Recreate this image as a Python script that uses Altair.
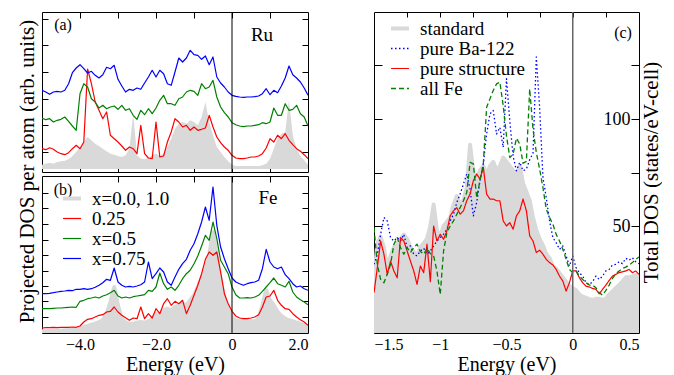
import altair as alt
import pandas as pd

FONT = "Liberation Serif"

# ---------------- energy grids ----------------
E_AB = [round(-5.0 + 0.1 * i, 1) for i in range(71)]
E_C = [round(-1.5 + 0.025 * i, 3) for i in range(81)]

# ---------------- panel (a): Ru projected DOS (arb. units, offset curves) ----------------
A_GREY = [4.3, 5.3, 6.3, 5.3, 7.0, 7.7, 8.3, 9.7, 13.0, 17.0,
          22.0, 27.0, 32.0, 28.7, 25.3, 23.0, 20.3, 17.7, 15.3, 14.3,
          13.0, 12.0, 13.7, 20.3, 55.3, 13.7, 10.3, 9.7, 11.0, 13.7,
          15.3, 13.0, 15.3, 22.0, 30.3, 40.3, 45.3, 47.0, 45.3, 48.7,
          47.0, 43.7, 52.0, 67.0, 47.0, 33.7, 22.0, 17.0, 12.0, 7.7,
          4.3, 3.0, 3.0, 3.0, 3.0, 3.0, 3.0, 3.0, 3.7, 5.3,
          10.3, 20.3, 30.3, 35.3, 37.0, 68.7, 33.7, 20.3, 13.0, 8.7, 4.3]
A_RED = [20.3, 19.3, 21.3, 19.7, 17.0, 15.3, 14.3, 16.3, 20.3, 23.7,
         20.3, 27.0, 100.0, 85.3, 67.0, 58.7, 50.3, 57.0, 33.7, 30.3,
         27.0, 23.0, 18.7, 22.0, 20.3, 15.3, 43.7, 15.3, 11.0, 10.3,
         47.0, 12.0, 13.0, 27.0, 37.0, 50.3, 47.0, 42.0, 43.7, 38.7,
         42.0, 38.7, 39.7, 41.0, 53.7, 42.0, 32.0, 26.3, 22.0, 18.7,
         13.7, 11.0, 10.3, 10.3, 11.0, 12.0, 12.0, 13.0, 15.3, 21.0,
         30.3, 27.0, 33.7, 30.3, 35.3, 28.7, 24.3, 20.3, 17.7, 14.3, 10.3]
A_GREEN = [51.0, 49.3, 50.3, 47.0, 48.7, 49.7, 52.0, 47.7, 43.0, 38.7,
           75.3, 85.3, 82.0, 70.3, 67.0, 61.0, 63.7, 60.3, 62.0, 63.0,
           59.7, 63.7, 58.7, 60.3, 53.7, 49.7, 58.7, 54.3, 60.3, 55.3,
           61.0, 68.7, 73.7, 65.3, 65.3, 63.7, 70.3, 72.0, 77.0, 78.7,
           77.7, 73.7, 85.3, 80.3, 82.0, 88.7, 72.0, 62.0, 56.3, 52.0,
           46.3, 44.3, 43.0, 42.3, 43.0, 43.0, 43.7, 44.3, 46.3, 45.3,
           47.0, 61.0, 53.7, 53.7, 65.3, 58.7, 59.7, 63.7, 55.3, 52.0, 43.0]
A_BLUE = [78.7, 77.0, 74.7, 77.0, 77.7, 77.0, 78.7, 85.3, 96.3, 101.0,
          104.3, 100.3, 96.0, 97.7, 93.7, 91.0, 94.3, 101.7, 100.3, 103.7,
          89.7, 83.0, 77.0, 79.7, 78.7, 81.0, 79.7, 86.0, 92.0, 98.7,
          92.0, 98.7, 95.3, 85.3, 83.7, 97.0, 111.0, 107.0, 111.0, 118.7,
          114.3, 113.7, 109.7, 113.0, 104.3, 112.0, 92.0, 86.0, 82.0, 77.0,
          73.7, 72.7, 72.0, 71.7, 72.0, 72.0, 72.3, 73.0, 75.3, 80.3,
          74.3, 78.7, 76.3, 83.0, 91.0, 103.0, 94.3, 91.0, 87.0, 81.0, 73.7]

# ---------------- panel (b): Fe projected DOS ----------------
B_GREY = [2.7, 2.7, 3.0, 3.0, 3.3, 3.3, 3.7, 4.0, 4.7, 5.3,
          6.0, 7.0, 8.0, 9.3, 10.3, 12.0, 13.7, 20.3, 32.0, 47.0,
          28.7, 15.3, 11.3, 10.3, 10.3, 11.3, 12.0, 11.3, 12.7, 15.3,
          20.3, 18.7, 23.7, 25.3, 23.7, 27.0, 28.7, 30.3, 28.7, 33.7,
          38.7, 47.0, 55.3, 65.3, 78.7, 102.0, 78.7, 55.3, 35.3, 23.7,
          17.0, 13.7, 12.7, 12.7, 12.7, 12.7, 12.7, 15.3, 28.7, 43.7,
          33.7, 28.7, 22.0, 18.0, 15.3, 13.7, 12.7, 11.3, 10.0, 8.7, 7.0]
B_RED = [6.0, 6.3, 6.3, 6.7, 6.3, 6.7, 6.7, 6.7, 7.0, 6.7,
         8.0, 12.0, 14.7, 15.3, 17.0, 18.7, 19.3, 22.0, 22.7, 27.0,
         22.0, 18.7, 16.3, 13.7, 16.0, 15.3, 27.0, 15.3, 20.3, 16.0,
         25.3, 20.3, 30.3, 35.3, 28.7, 32.7, 30.3, 33.7, 20.3, 28.7,
         38.7, 48.7, 60.3, 74.7, 82.0, 78.7, 82.0, 62.0, 40.3, 30.3,
         22.7, 18.0, 16.0, 15.3, 15.3, 16.0, 17.0, 19.3, 27.0, 37.0,
         38.0, 43.7, 33.7, 28.7, 25.3, 24.7, 20.3, 17.0, 14.3, 12.0, 8.7]
B_GREEN = [25.3, 25.3, 25.3, 25.7, 26.0, 26.0, 26.3, 26.7, 27.0, 26.7,
           32.7, 33.7, 35.3, 36.0, 37.0, 36.0, 38.0, 39.3, 41.3, 43.7,
           38.0, 36.0, 37.0, 36.0, 37.3, 38.0, 38.7, 39.3, 43.7, 42.7,
           47.0, 61.0, 50.3, 44.7, 47.0, 43.7, 48.7, 55.3, 60.3, 63.7,
           70.3, 78.0, 88.0, 98.7, 93.7, 112.0, 95.3, 73.7, 67.0, 60.3,
           47.0, 39.3, 36.0, 36.0, 36.3, 36.0, 37.0, 38.7, 42.7, 47.0,
           51.3, 56.0, 50.3, 48.7, 47.0, 52.7, 42.0, 37.0, 34.3, 32.0, 29.3]
B_BLUE = [40.3, 40.3, 40.7, 41.3, 42.0, 42.7, 43.0, 43.7, 43.3, 44.7,
          44.7, 45.3, 44.7, 45.3, 46.7, 48.7, 51.3, 54.7, 53.7, 66.0,
          52.0, 48.7, 47.0, 47.7, 47.0, 48.0, 49.3, 52.0, 72.0, 55.3,
          60.3, 66.0, 62.0, 52.0, 48.7, 57.0, 64.7, 70.3, 74.7, 83.7,
          90.3, 100.3, 112.0, 127.0, 113.7, 147.0, 108.7, 87.0, 75.3, 65.3,
          56.0, 52.0, 50.3, 48.7, 50.3, 51.3, 52.0, 53.7, 65.3, 84.7,
          72.0, 67.0, 65.3, 67.0, 59.3, 55.3, 50.3, 47.0, 48.0, 45.3, 43.7]

# ---------------- panel (c): total DOS (states/eV-cell) ----------------
C_GREY = [24, 42, 45, 40, 30, 36, 40, 42, 44, 46,
          44, 40, 38, 36, 40, 42, 44, 50, 60, 48,
          45, 50, 52, 54, 60, 64, 60, 62, 68, 88,
          75, 72, 76, 78, 74, 78, 80, 76, 78, 82,
          80, 78, 76, 74, 78, 70, 66, 62, 54, 48,
          44, 41, 37, 35, 31, 30, 28, 26, 24, 22,
          21, 20, 18, 17, 16.5, 15.8, 15.5, 16, 16, 15.5,
          16, 18, 19.5, 21, 22.5, 24, 26, 26, 26.5, 27,
          27]
C_BLUE = [32.1, 36.8, 46.1, 54.0, 52.4, 44.6, 43.0, 44.6, 43.0, 46.1,
          39.9, 40.7, 36.8, 36.0, 38.3, 39.6, 36.8, 38.3, 40.7, 43.0,
          44.6, 46.1, 48.5, 52.4, 55.5, 61.0, 64.9, 69.6, 74.3, 67.2,
          54.7, 61.0, 71.2, 79.0, 93.0, 102.4, 104.0, 93.0, 96.1, 86.8,
          118.8, 99.0, 82.5, 75.8, 79.8, 75.8, 76.6, 81.0, 84.0, 129.0,
          105.5, 72.7, 63.3, 52.4, 44.6, 42.2, 39.1, 40.7, 36.0, 31.3,
          36.0, 30.5, 28.2, 26.6, 23.5, 22.7, 24.0, 26.6, 25.0, 26.6,
          29.0, 29.7, 31.8, 32.1, 33.3, 32.4, 34.9, 34.0, 35.2, 33.3,
          32.4]
C_RED = [18.8, 30.5, 43.0, 36.8, 27.4, 33.6, 29.0, 25.8, 44.6, 43.0,
         38.3, 33.6, 29.0, 22.7, 31.3, 28.2, 41.5, 24.0, 50.0, 43.0,
         46.1, 43.8, 47.7, 54.7, 57.1, 58.6, 55.5, 57.1, 61.8, 64.9,
         71.2, 74.3, 71.9, 77.4, 64.9, 62.6, 62.6, 61.8, 61.8, 52.4,
         50.0, 51.6, 48.5, 54.7, 57.1, 62.6, 57.1, 45.4, 43.0, 37.6,
         38.7, 36.8, 34.4, 32.9, 31.8, 29.7, 26.6, 24.3, 19.6, 23.5,
         29.0, 29.0, 25.8, 23.5, 21.9, 21.5, 20.8, 20.4, 18.3, 20.4,
         22.4, 24.6, 26.6, 27.4, 28.2, 28.6, 29.0, 29.7, 28.2, 29.0,
         27.4]
C_GREEN = [49.3, 32.1, 25.1, 23.5, 27.4, 32.1, 41.5, 44.6, 39.9, 36.8,
           39.9, 37.6, 39.9, 41.5, 38.1, 36.8, 39.6, 37.1, 36.0, 29.0,
           18.0, 38.3, 46.9, 50.0, 52.4, 55.5, 58.6, 61.8, 65.7, 79.7,
           79.0, 63.3, 71.2, 79.0, 105.5, 109.4, 113.3, 116.4, 117.2, 106.3,
           92.0, 82.0, 83.6, 91.0, 88.3, 79.3, 80.2, 114.1, 95.3, 84.4,
           76.6, 68.0, 57.9, 54.0, 50.8, 46.1, 43.0, 39.1, 34.4, 29.7,
           28.2, 29.0, 26.6, 25.0, 23.5, 22.4, 22.4, 21.1, 18.8, 17.7,
           19.9, 22.4, 25.5, 27.7, 29.0, 30.2, 30.8, 31.8, 32.9, 34.4,
           35.5]

# ---------------- categories, ticks, labels ----------------
AB_SERIES = ["x=0.0, 1.0", "0.25", "x=0.5", "x=0.75"]
AB_COLORS = ["#d9d9d9", "#ff0000", "#008000", "#0000ff"]
AB_WIDTHS = [4, 1.2, 1.2, 1.2]
C_SERIES = ["standard", "pure Ba-122", "pure structure", "all Fe"]
C_COLORS = ["#d9d9d9", "#0000ff", "#ff0000", "#008000"]
C_DASHES = [[1, 0], [1.5, 2.5], [1, 0], [5, 3]]
C_WIDTHS = [4, 1.3, 1.2, 1.3]

AB_TICKS_X = [-4, -3, -2, -1, 0, 1]
AB_LABELS_X = [-4, -2, 0, 2]
A_TICKS_Y = [17, 44, 70.5, 97, 124, 150.5]
B_TICKS_Y = [17, 32.5, 48, 63.5, 79, 94.5, 110, 125.5, 141]
C_TICKS_X = [-1.25, -1, -0.75, -0.5, -0.25, 0, 0.25]
C_LABELS_X = [-1.5, -1, -0.5, 0, 0.5]
C_TICKS_Y = [25, 50, 75, 100, 125]

W_AB, H_A, H_B = 266, 160, 157
W_C, H_C = 265, 321


def long_df(energies, names, arrays):
    rows = []
    for name, arr in zip(names, arrays):
        for e, v in zip(energies, arr):
            rows.append({"E": e, "v": v, "s": name})
    return pd.DataFrame(rows)


def tick_axis(orient, offset, values, size, title=None, **kw):
    return alt.Axis(orient=orient, offset=offset, values=values, tickSize=size,
                    labels=False, domain=False, grid=False, title=title,
                    tickColor="black", tickWidth=1, **kw)


def label_text(t, x, y, size):
    return alt.Chart(pd.DataFrame({"t": [t]})).mark_text(
        font=FONT, fontSize=size, color="black", align="center", baseline="middle"
    ).encode(text="t:N", x=alt.value(x), y=alt.value(y))


ZERO = pd.DataFrame({"E": [0.0]})


def panel_ab(grey, series_names, series_arrays, H, ydom, yticks, legend, texts,
             label_axis, ytitle_axis):
    xs = alt.Scale(domain=[-5, 2], nice=False, zero=False)
    ys = alt.Scale(domain=ydom, nice=False, zero=False)
    grey_df = pd.DataFrame({"E": E_AB, "v": grey})
    area = alt.Chart(grey_df).mark_area(color="#d9d9d9", clip=True).encode(
        x=alt.X("E:Q", scale=xs, axis=tick_axis("bottom", -H, AB_TICKS_X, 6)),
        y=alt.Y("v:Q", scale=ys, axis=ytitle_axis),
        y2=alt.value("height"),
    )
    ldf = long_df(E_AB, series_names, series_arrays)
    lines = alt.Chart(ldf).mark_line(clip=True, strokeJoin="round").encode(
        x=alt.X("E:Q", scale=xs, axis=tick_axis("top", -H, AB_TICKS_X, 6)),
        y=alt.Y("v:Q", scale=ys, axis=tick_axis("left", -W_AB, yticks, 6)),
        color=alt.Color("s:N", scale=alt.Scale(domain=AB_SERIES, range=AB_COLORS),
                        legend=legend, sort=AB_SERIES),
        strokeWidth=alt.StrokeWidth("s:N", scale=alt.Scale(type="ordinal", domain=AB_SERIES,
                                                           range=AB_WIDTHS),
                                    legend=legend, sort=AB_SERIES),
    )
    zero = alt.Chart(ZERO).mark_rule(color="black", strokeWidth=1).encode(
        x=alt.X("E:Q", scale=xs, axis=label_axis)
    )
    layers = [area, lines, zero] + texts
    return alt.layer(*layers).properties(width=W_AB, height=H).resolve_axis(
        x="independent", y="independent")


# ----- panel (a)
a_title_axis = tick_axis("right", -W_AB, A_TICKS_Y, 6,
                         title="Projected DOS per atom (arb. units)",
                         titleX=-15, titleY=159, titleAngle=270, titleAlign="center",
                         titleBaseline="middle", titleFontSize=21, titleFontWeight="normal",
                         titleFont=FONT, titleColor="black")
panel_a = panel_ab(A_GREY, ["0.25", "x=0.5", "x=0.75"], [A_RED, A_GREEN, A_BLUE],
                   H_A, [-3, 157], A_TICKS_Y, None,
                   [label_text("(a)", 21, 12.5, 16), label_text("Ru", 220, 23, 19)],
                   None, a_title_axis)

# ----- panel (b)
b_legend = alt.Legend(orient="none", legendX=19, legendY=11.5, title=None,
                      symbolType="stroke", symbolSize=324, labelFontSize=19,
                      labelFont=FONT, labelColor="black", labelOffset=9,
                      rowPadding=0, padding=0)
b_label_axis = alt.Axis(orient="bottom", values=AB_LABELS_X, ticks=False, domain=False,
                        grid=False, labelFontSize=16, labelPadding=3, labelFont=FONT,
                        labelColor="black",
                        labelExpr="datum.value == 0 ? '0' : format(datum.value, '.1f')",
                        title="Energy (eV)", titleFontSize=20, titlePadding=2,
                        titleFont=FONT, titleFontWeight="normal", titleColor="black")
panel_b = panel_ab(B_GREY, AB_SERIES, [B_GREY, B_RED, B_GREEN, B_BLUE],
                   H_B, [1, 158], B_TICKS_Y, b_legend,
                   [label_text("(b)", 21, 14, 16), label_text("Fe", 226, 22, 19)],
                   b_label_axis, tick_axis("right", -W_AB, B_TICKS_Y, 6))

# ----- panel (c)
xs_c = alt.Scale(domain=[-1.5, 0.5], nice=False, zero=False)
ys_c = alt.Scale(domain=[0, 150], nice=False, zero=False)
c_grey_df = pd.DataFrame({"E": E_C, "v": C_GREY})
c_area = alt.Chart(c_grey_df).mark_area(color="#d9d9d9", clip=True).encode(
    x=alt.X("E:Q", scale=xs_c, axis=tick_axis("bottom", -H_C, C_TICKS_X, 5)),
    y=alt.Y("v:Q", scale=ys_c, axis=tick_axis("right", -W_C, C_TICKS_Y, 8)),
    y2=alt.value("height"),
)
c_legend = alt.Legend(orient="none", legendX=15, legendY=5.5, title=None,
                      symbolType="stroke", symbolSize=324, labelFontSize=19,
                      labelFont=FONT, labelColor="black", labelOffset=9,
                      rowPadding=-1.3, padding=0)
c_right_axis = alt.Axis(orient="left", offset=-W_C, values=C_TICKS_Y, tickSize=8,
                        domain=False, grid=False, tickColor="black",
                        labelExpr="datum.value == 50 || datum.value == 100 ? datum.label : ''",
                        labelFontSize=18, labelPadding=1, labelFont=FONT, labelColor="black",
                        title="Total DOS (states/eV-cell)", titleX=12, titleY=160,
                        titleAngle=270, titleAlign="center", titleBaseline="middle",
                        titleFontSize=21, titleFontWeight="normal", titleFont=FONT,
                        titleColor="black")
c_ldf = long_df(E_C, C_SERIES, [C_GREY, C_BLUE, C_RED, C_GREEN])
c_lines = alt.Chart(c_ldf).mark_line(clip=True, strokeJoin="round").encode(
    x=alt.X("E:Q", scale=xs_c, axis=tick_axis("top", -H_C, C_TICKS_X, 5)),
    y=alt.Y("v:Q", scale=ys_c, axis=c_right_axis),
    color=alt.Color("s:N", scale=alt.Scale(domain=C_SERIES, range=C_COLORS),
                    legend=c_legend, sort=C_SERIES),
    strokeDash=alt.StrokeDash("s:N", scale=alt.Scale(domain=C_SERIES, range=C_DASHES),
                              legend=c_legend, sort=C_SERIES),
    strokeWidth=alt.StrokeWidth("s:N", scale=alt.Scale(type="ordinal", domain=C_SERIES,
                                                       range=C_WIDTHS),
                                legend=c_legend, sort=C_SERIES),
)
c_label_axis = alt.Axis(orient="bottom", values=C_LABELS_X, ticks=False, domain=False,
                        grid=False, labelFontSize=16, labelPadding=3, format="~g",
                        labelFont=FONT, labelColor="black",
                        title="Energy (eV)", titleFontSize=20, titlePadding=2,
                        titleFont=FONT, titleFontWeight="normal", titleColor="black")
c_zero = alt.Chart(ZERO).mark_rule(color="#666666", strokeWidth=1.5).encode(
    x=alt.X("E:Q", scale=xs_c, axis=c_label_axis)
)
panel_c = alt.layer(c_area, c_lines, c_zero, label_text("(c)", 249, 21, 16)).properties(
    width=W_C, height=H_C).resolve_axis(x="independent", y="independent")

left = alt.vconcat(panel_a, panel_b, spacing=4, bounds="flush").resolve_scale(
    color="independent", strokeWidth="independent")

chart = alt.hconcat(left, panel_c, spacing=64).resolve_scale(
    color="independent", strokeWidth="independent", strokeDash="independent"
).properties(
    padding={"left": 15, "top": 10, "right": 0, "bottom": 0}
).configure(font=FONT).configure_view(stroke="black", strokeWidth=1).configure_axis(
    grid=False, labelFont=FONT, titleFont=FONT
).configure_legend(labelFont=FONT)

chart.save("out.html", embed_options={"renderer": "svg", "actions": False})
